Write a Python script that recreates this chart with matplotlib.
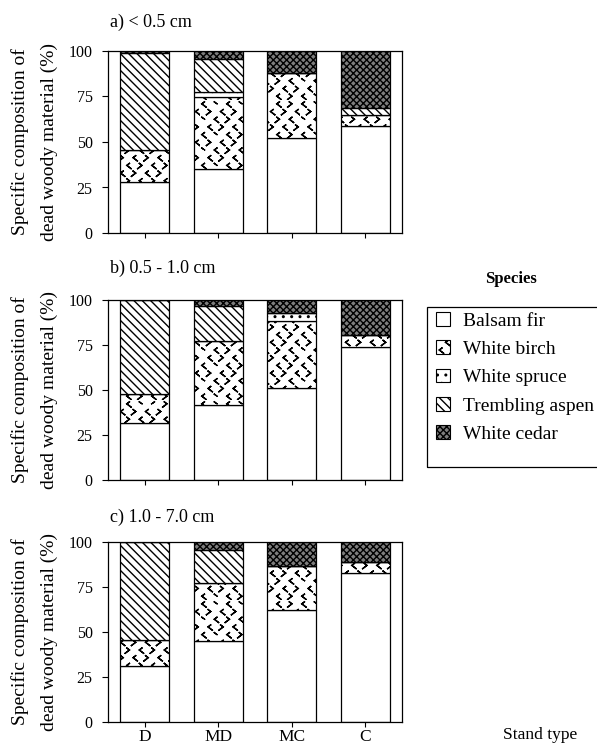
import warnings
warnings.filterwarnings("ignore")
import numpy as np
import matplotlib
matplotlib.use("Agg")
import matplotlib.pyplot as plt
import matplotlib.hatch as mhatch
from matplotlib.path import Path
from matplotlib.patches import Rectangle, Patch

# ---------------- data ----------------
stand_types = ["D", "MD", "MC", "C"]
species = ["Balsam fir", "White birch", "White spruce", "Trembling aspen", "White cedar"]
panel_titles = ["a) < 0.5 cm", "b) 0.5 - 1.0 cm", "c) 1.0 - 7.0 cm"]
yticks = [0, 25, 50, 75, 100]

# panel a (< 0.5 cm)
a_balsam = [28.0, 35.0, 52.0, 58.6]
a_birch = [17.5, 39.6, 36.0, 6.2]
a_spruce = [0.0, 2.7, 0.0, 0.0]
a_aspen = [53.2, 18.2, 0.0, 3.7]
a_cedar = [1.3, 4.5, 12.0, 31.5]

# panel b (0.5 - 1.0 cm)
b_balsam = [31.8, 41.7, 50.9, 74.0]
b_birch = [15.8, 35.7, 37.6, 6.4]
b_spruce = [0.0, 0.0, 4.1, 0.0]
b_aspen = [52.4, 19.4, 0.0, 0.0]
b_cedar = [0.0, 3.2, 7.4, 19.6]

# panel c (1.0 - 7.0 cm)
c_balsam = [30.8, 44.6, 62.1, 82.5]
c_birch = [14.7, 32.4, 24.5, 5.9]
c_spruce = [0.0, 0.0, 0.0, 0.0]
c_aspen = [54.5, 18.3, 0.0, 0.0]
c_cedar = [0.0, 4.7, 13.4, 11.6]

panels = [
    [a_balsam, a_birch, a_spruce, a_aspen, a_cedar],
    [b_balsam, b_birch, b_spruce, b_aspen, b_cedar],
    [c_balsam, c_birch, c_spruce, c_aspen, c_cedar],
]


# ---------------- custom chevron hatch (thin "<" / ">" marks) ----------------
class ChevronHatch(mhatch.HatchPatternBase):
    def __init__(self, hatch, density):
        n = hatch.count('v')
        self.rows = 13 * n
        self.cols = 8 * n
        self.num_vertices = self.rows * self.cols * 5 if n else 0

    def set_vertices_and_codes(self, vertices, codes):
        w = 0.026
        h = 0.04
        k = 0
        for r in range(self.rows):
            cy = (r + 0.5) / self.rows
            for c in range(self.cols):
                cx = (c + 0.25 + 0.5 * (r % 2)) / self.cols
                left = ((c + r // 2) % 2) == 0
                s = 1 if left else -1
                p1 = (cx + s * w / 2, cy + h / 2)
                p2 = (cx - s * w / 2, cy)
                p3 = (cx + s * w / 2, cy - h / 2)
                pts = [p1, p2, p3, p2, p1]   # zero-area: stroke only
                for j, p in enumerate(pts):
                    vertices[k + j] = p
                    codes[k + j] = Path.MOVETO if j == 0 else Path.LINETO
                k += 5


mhatch._hatch_types.append(ChevronHatch)

plt.rcParams['font.family'] = ['Liberation Serif', 'DejaVu Serif']
plt.rcParams['hatch.linewidth'] = 1.0

styles = [
    dict(facecolor="white", hatch=None),
    dict(facecolor="white", hatch="v"),
    dict(facecolor="white", hatch=".."),
    dict(facecolor="white", hatch="\\\\\\\\"),
    dict(facecolor="#7e7e7e", hatch="xxxxx"),
]

W, H = 597, 745
fig = plt.figure(figsize=(W / 100, H / 100), dpi=100)

ax_left = 108 / W
ax_w = (402 - 108) / W
panel_px = [(51, 233), (300, 480), (541.5, 722)]
title_y = [22, 268, 517]

x = np.arange(len(stand_types))
for i, (top, bot) in enumerate(panel_px):
    ax = fig.add_axes([ax_left, 1 - bot / H, ax_w, (bot - top) / H])
    cum = np.zeros(len(stand_types))
    for sp, vals, st in zip(species, panels[i], styles):
        vals = np.array(vals)
        ax.bar(x, vals, bottom=cum, width=0.67, facecolor=st["facecolor"],
               edgecolor="black", hatch=st["hatch"], linewidth=0.9, label=sp)
        cum = cum + vals
    ax.set_xlim(-0.5, 3.5)
    ax.set_ylim(0, 100)
    ax.set_yticks(yticks)
    ax.set_yticklabels([str(v) for v in yticks], fontsize=11.5)
    ax.set_xticks(x)
    if i == 2:
        ax.set_xticklabels(stand_types, fontsize=12.5)
    else:
        ax.set_xticklabels([])
    ax.tick_params(axis='y', length=4, width=0.8, pad=7)
    ax.tick_params(axis='x', length=3.5, width=0.8, pad=1.5)
    for s in ax.spines.values():
        s.set_linewidth(0.9)
    fig.text(110 / W, 1 - title_y[i] / H, panel_titles[i], fontsize=13,
             ha='left', va='center')
    cy = 1 - (top + bot) / 2 / H
    fig.text(20 / W, cy, "Specific composition of", rotation=90, fontsize=14,
             ha='center', va='center')
    fig.text(49 / W, cy, "dead woody material (%)", rotation=90, fontsize=14,
             ha='center', va='center')

fig.text(540 / W, 1 - 735 / H, "Stand type", fontsize=12.5, ha='center', va='center')

# legend
fig.text(511 / W, 1 - 279 / H, "Species", fontsize=12, fontweight='bold',
         ha='center', va='center')
fig.add_artist(Rectangle((427 / W, 1 - 467 / H), (640 - 427) / W, 160 / H,
                         transform=fig.transFigure, fill=False, lw=0.9,
                         edgecolor='black', clip_on=False))
handles = [Patch(facecolor=st["facecolor"], edgecolor="black", hatch=st["hatch"],
                 linewidth=0.8) for st in styles]
fig.legend(handles, species, loc='upper left', bbox_to_anchor=(436 / W, 1 - 312 / H),
           frameon=False, fontsize=14, handlelength=0.7, handleheight=0.7,
           handletextpad=0.7, labelspacing=0.55, borderpad=0, borderaxespad=0)

fig.savefig("out.png", dpi=100)
